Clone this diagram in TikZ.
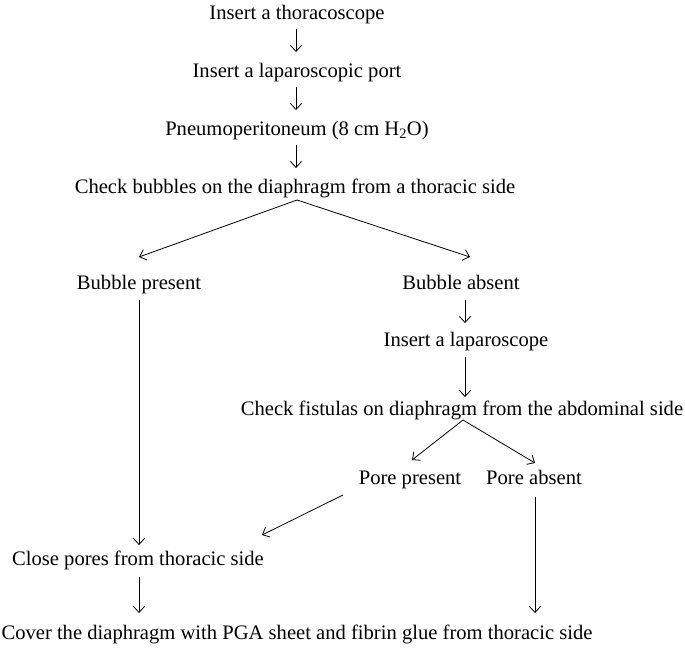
\documentclass[tikz,border=0pt]{standalone}
\usepackage{fontspec}
\setmainfont{Liberation Serif}
\usetikzlibrary{arrows.meta}
\begin{document}
\begin{tikzpicture}[x=1bp,y=-1bp,
  lbl/.style={inner sep=0pt, yshift=-2.5bp, text height=14bp, text depth=4.5bp, font=\fontsize{20.6bp}{24bp}\selectfont},
  arr/.style={draw, line width=0.8bp, -{Straight Barb[length=6bp,width=11bp,line width=0.8bp]}},
  ln/.style={draw, line width=0.8bp}]
\useasboundingbox (0,0) rectangle (685,651);
\node[lbl] (t1) at (297,12) {Insert a thoracoscope};
\node[lbl] (t2) at (297,70) {Insert a laparoscopic port};
\node[lbl] (t3) at (297,128) {Pneumoperitoneum (8 cm H\textsubscript{2}O)};
\node[lbl] (t4) at (295,186) {Check bubbles on the diaphragm from a thoracic side};
\node[lbl] (bp) at (139,282) {Bubble present};
\node[lbl] (ba) at (461,282) {Bubble absent};
\node[lbl] (il) at (466,339) {Insert a laparoscope};
\node[lbl] (cf) at (462,408) {Check fistulas on diaphragm from the abdominal side};
\node[lbl] (pp) at (410,477) {Pore present};
\node[lbl] (pa) at (534,477) {Pore absent};
\node[lbl] (cp) at (138,558) {Close pores from thoracic side};
\node[lbl] (cv) at (297,632) {Cover the diaphragm with PGA sheet and fibrin glue from thoracic side};
\coordinate (ap1) at (297,200);
\coordinate (bpTip) at (139,257);
\coordinate (baTip) at (470,257);
\coordinate (ap2) at (463,420);
\coordinate (ppTip) at (412,460);
\coordinate (paTip) at (535,463);
\coordinate (ppOut) at (343,495);
\coordinate (cpTip) at (262,535);
% top chain
\draw[arr, shorten <=5bp, shorten >=11bp] (t1.south -| 296,0) -- (t2.north -| 296,0);
\draw[arr, shorten <=5bp, shorten >=11bp] (t2.south -| 296,0) -- (t3.north -| 296,0);
\draw[arr, shorten <=5bp, shorten >=11bp] (t3.south -| 296,0) -- (t4.north -| 296,0);
% first split
\draw[arr] (ap1) -- (bpTip);
\draw[arr] (ap1) -- (baTip);
% right branch
\draw[arr, shorten <=6bp, shorten >=9bp] (ba.south -| 465,0) -- (il.north -| 465,0);
\draw[arr, shorten <=6bp, shorten >=4bp] (il.south -| 465,0) -- (cf.north -| 465,0);
% second split
\draw[arr] (ap2) -- (ppTip);
\draw[arr] (ap2) -- (paTip);
% pore present to close pores
\draw[arr] (ppOut) -- (cpTip);
% bubble present down
\draw[arr, shorten <=6bp, shorten >=6bp] (bp.south -| 139,0) -- (cp.north -| 139,0);
% close pores to cover
\draw[arr, shorten <=7bp, shorten >=12bp] (cp.south -| 139,0) -- (cv.north -| 139,0);
% pore absent to cover
\draw[arr, shorten <=8bp, shorten >=12bp] (pa.south -| 535,0) -- (cv.north -| 535,0);
\end{tikzpicture}
\end{document}
